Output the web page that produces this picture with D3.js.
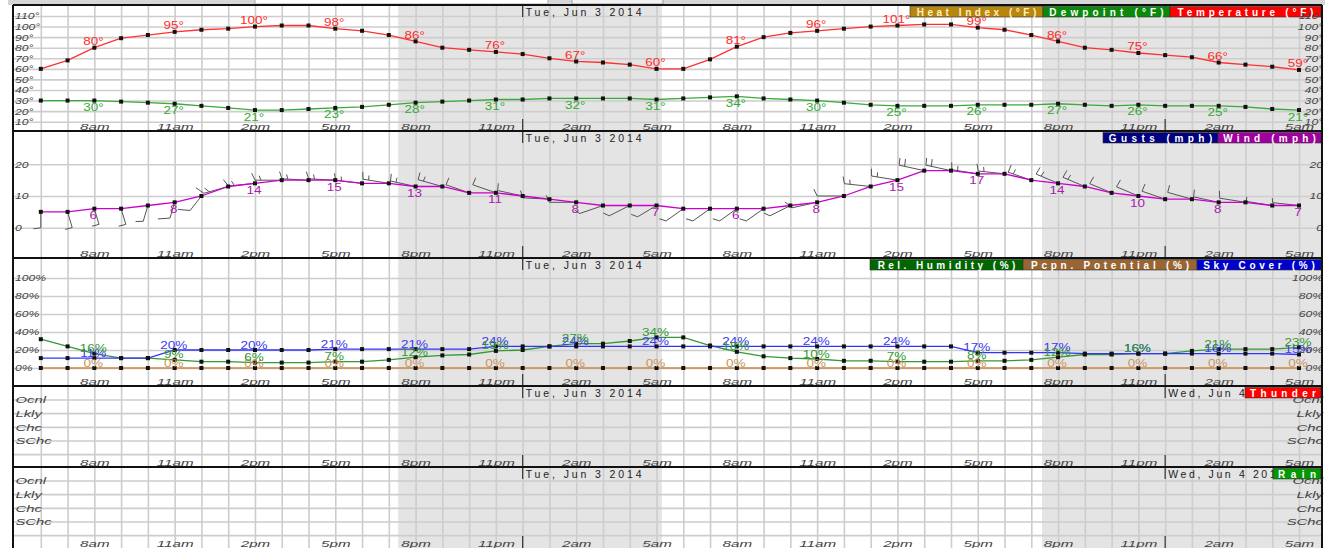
<!DOCTYPE html>
<html><head><meta charset="utf-8">
<script src="https://cdn.jsdelivr.net/npm/d3@7"></script>
<style>
body{margin:0;background:#fff;}
svg{display:block;font-family:"Liberation Sans",Arial,sans-serif;}
</style>
</head><body>
<svg id="c" width="1325" height="548"></svg>
<script>
// ---------------- DATA (hourly, Mon Jun 2 6am .. Wed Jun 4 5am) ----------------
const hourLabels = ["8am","11am","2pm","5pm","8pm","11pm","2am","5am","8am","11am","2pm","5pm","8pm","11pm","2am","5am"];
const temperature = [60,68,80,89,92,95,97,98,100,101,101,98,96,92,86,80,
                     78,76,74,70,67,66,64,60,
                     60,69,81,90,94,96,98,100,101,102,102,99,97,92,86,80,78,75,73,71,66,64,62,59];
const dewpoint    = [30,30,30,29,28,27,25,23,21,21,22,23,24,26,28,29,
                     30,31,31,32,32,32,32,31,
                     32,33,34,32,31,30,28,26,25,25,25,26,26,26,27,26,25,26,25,25,25,24,22,21];
const windSpeed   = [5,5,6,6,7,8,10,13,14,15,15,15,14,14,13,13,
                     11,11,10,9,8,7,7,7,
                     6,6,6,6,7,8,10,13,15,18,18,17,17,15,14,13,11,10,9,9,8,8,7,7];
const windDir     = [180,170,170,170,190,190,205,245,260,270,275,275,280,285,290,295,
                     300,300,290,275,270,240,230,225,
                     220,220,220,220,230,250,270,280,285,290,290,285,280,300,305,305,305,305,300,295,290,285,285,280];
const skyCover    = [11,11,11,11,11,20,20,20,20,20,20,21,21,21,21,21,
                     21,24,24,24,24,24,24,24,
                     24,24,24,24,24,24,24,24,24,24,24,17,17,17,17,16,16,16,16,16,16,16,16,15];
const relHumidity = [32,24,16,11,11,9,7,7,6,6,6,7,7,9,12,14,
                     15,19,20,24,27,27,30,34,
                     34,25,18,13,11,10,8,8,7,7,7,8,8,9,12,15,15,16,16,19,21,21,21,23];
const pcpnPotential = [0,0,0,0,0,0,0,0,0,0,0,0,0,0,0,0,0,0,0,0,0,0,0,0,
                       0,0,0,0,0,0,0,0,0,0,0,0,0,0,0,0,0,0,0,0,0,0,0,0];
const tempTicks = [10,20,30,40,50,60,70,80,90,100,110];
const windTicks = [0,10,20];
const humTicks  = [0,20,40,60,80,100];
const categories = ["Ocnl","Lkly","Chc","SChc"];
const midnightIdx = [18,42];
const dateLabels = ["Tue, Jun 3 2014","Wed, Jun 4 2014"];
const darkStart = [13.35,37.4];
const darkEnd   = [23.2,48.6];

// ---------------- LAYOUT ----------------
const W=1325,H=548,L=13,R=1322;
const panels=[{top:5,bottom:131},{top:131,bottom:258},{top:258,bottom:386},{top:386,bottom:467},{top:467,bottom:548}];
const svg=d3.select('#c');
const idx=d3.range(48);
const labelIdx=idx.filter(i=>i%3===2);
const x=d3.scaleLinear().domain([0,47]).range([40.8,1299]);
const yT=d3.scaleLinear().domain([10,110]).range([121.7,16]);
const yW=d3.scaleLinear().domain([0,20]).range([227.7,164.3]);
const yH=d3.scaleLinear().domain([0,100]).range([368,278]);

function txt(g,xx,yy,s,o){
  o=o||{};
  const sx=o.sx||1;
  const t=g.append('text').attr('transform',`translate(${xx},${yy}) scale(${sx},1)`)
    .attr('font-size',o.size||10).attr('fill',o.fill||'#333')
    .attr('text-anchor',o.anchor||'start').text(s);
  if(o.italic)t.attr('font-style','italic');
  if(o.bold)t.attr('font-weight','bold');
  if(o.len)t.attr('textLength',o.len/sx).attr('lengthAdjust','spacing');
  return t;
}

svg.append('rect').attr('width',W).attr('height',H).attr('fill','#fff');
// browser strip at top
svg.append('rect').attr('x',8).attr('y',0).attr('width',W-8).attr('height',5).attr('fill','#d6d6d6');
svg.append('rect').attr('x',255).attr('y',-2).attr('width',293).attr('height',6).attr('fill','#fff').attr('stroke','#aaa');
svg.append('rect').attr('x',572).attr('y',-2).attr('width',91).attr('height',6).attr('fill','#f2f2f2').attr('stroke','#999');

const layers=[];
panels.forEach((p,pi)=>{
  const cid='clip'+pi;
  svg.append('clipPath').attr('id',cid).append('rect').attr('x',L).attr('y',p.top).attr('width',R-L).attr('height',p.bottom-p.top);
  const g=svg.append('g').attr('clip-path',`url(#${cid})`);
  g.append('rect').attr('x',L).attr('y',p.top).attr('width',R-L).attr('height',p.bottom-p.top).attr('fill','#fff');
  darkStart.forEach((s,k)=>{
    g.append('rect').attr('x',x(s)).attr('y',p.top).attr('width',x(darkEnd[k])-x(s)).attr('height',p.bottom-p.top).attr('fill','#e4e4e4');
  });
  const vg=g.append('g').attr('transform',`translate(0,${p.bottom})`)
    .call(d3.axisBottom(x).tickValues(idx).tickSize(-(p.bottom-p.top)).tickFormat(''));
  vg.select('.domain').remove();
  vg.selectAll('line').attr('stroke','#cdcdcd').attr('stroke-width',1.6);
  layers.push(g);
});

function hgrid(g,scale,ticks){
  const hg=g.append('g').attr('transform',`translate(${L},0)`)
    .call(d3.axisLeft(scale).tickValues(ticks).tickSize(-(R-L)).tickFormat(''));
  hg.select('.domain').remove();
  hg.selectAll('line').attr('stroke','#cdcdcd').attr('stroke-width',1.6);
}
function series(g,vals,scale,color){
  g.append('path').datum(vals).attr('fill','none').attr('stroke',color).attr('stroke-width',1.3)
    .attr('d',d3.line().x((d,i)=>x(i)).y(d=>scale(d)));
}
function points(g,vals,scale){
  g.append('g').selectAll('rect').data(vals).join('rect')
    .attr('x',(d,i)=>x(i)-2).attr('y',d=>scale(d)-2).attr('width',4).attr('height',4).attr('fill','#111');
}
function dataLabels(g,vals,scale,dy,color,suffix){
  labelIdx.forEach(i=>txt(g,x(i)-1,scale(vals[i])+dy,vals[i]+suffix,{size:10,sx:1.35,fill:color,anchor:'middle'}));
}

// ---------------- Panel 1: temperature / dewpoint ----------------
const g1=layers[0];
hgrid(g1,yT,tempTicks);
series(g1,temperature,yT,'#ff3030');
series(g1,dewpoint,yT,'#3aaa3a');
points(g1,temperature,yT);
points(g1,dewpoint,yT);
dataLabels(g1,temperature,yT,-2.5,'#ff2a2a','°');
dataLabels(g1,dewpoint,yT,10.5,'#33aa33','°');

// ---------------- Panel 2: wind ----------------
const g2=layers[1];
hgrid(g2,yW,windTicks);
const barbG=g2.append('g');
idx.forEach(i=>{
  const px=x(i),py=yW(windSpeed[i]);
  const a=windDir[i]*Math.PI/180;
  const ux=Math.sin(a),uy=-Math.cos(a);
  const fx=-uy,fy=ux;
  const S=1.67,len=16;
  const P=(u,v)=>[(px+u*S).toFixed(1),(py+v).toFixed(1)];
  let d=`M${P(0,0)}L${P(ux*len,uy*len)}`;
  const n=Math.round(windSpeed[i]/5);
  const full=Math.floor(n/2),half=n%2;
  let pos=len;
  for(let k=0;k<full;k++){
    d+=`M${P(ux*pos,uy*pos)}L${P(ux*(pos+2)+fx*7,uy*(pos+2)+fy*7)}`;
    pos-=3.5;
  }
  if(half){
    d+=`M${P(ux*pos,uy*pos)}L${P(ux*(pos+1)+fx*4.5,uy*(pos+1)+fy*4.5)}`;
  }
  barbG.append('path').attr('d',d).attr('fill','none').attr('stroke','#555').attr('stroke-width',1);
});
series(g2,windSpeed,yW,'#cc00cc');
points(g2,windSpeed,yW);
dataLabels(g2,windSpeed,yW,10.5,'#a81ca8','');

// ---------------- Panel 3: humidity / pcpn / sky ----------------
const g3=layers[2];
hgrid(g3,yH,humTicks);
series(g3,pcpnPotential,yH,'#cc8844');
series(g3,relHumidity,yH,'#339933');
series(g3,skyCover,yH,'#3333ff');
points(g3,pcpnPotential,yH);
points(g3,relHumidity,yH);
points(g3,skyCover,yH);
dataLabels(g3,pcpnPotential,yH,-1.5,'#c8955f','%');
dataLabels(g3,skyCover,yH,-1.5,'#3b3bf0','%');
dataLabels(g3,relHumidity,yH,-1.5,'#339933','%');

// ---------------- Panels 4,5: thunder / rain ----------------
[3,4].forEach(k=>{
  const p=panels[k];
  const yc=d3.scalePoint().domain(categories).range([p.top+14,p.top+55]);
  const step=yc.step();
  categories.concat([null]).forEach((c,j)=>{
    const yy=c?yc(c):yc(categories[3])+step;
    layers[k].append('line').attr('x1',L).attr('x2',R).attr('y1',yy).attr('y2',yy)
      .attr('stroke','#cdcdcd').attr('stroke-width',1.6);
  });
  p.yc=yc;
});

// ---------------- Decorations: midnight markers, dates ----------------
panels.forEach((p,pi)=>{
  const g=svg.append('g');
  midnightIdx.forEach((m,k)=>{
    const xm=x(m);
    g.append('line').attr('x1',xm).attr('x2',xm).attr('y1',p.top).attr('y2',p.top+12).attr('stroke','#333').attr('stroke-width',1.2);
    g.append('line').attr('x1',xm).attr('x2',xm).attr('y1',p.bottom-12).attr('y2',p.bottom).attr('stroke','#333').attr('stroke-width',1.2);
    txt(g,xm+3,p.top+11,dateLabels[k],{size:10.5,fill:'#222',len:116});
  });
});

// ---------------- Legends ----------------
const legends=[
  [0,[["Heat Index (°F)","#b8860b","#fff0c4",910,1043],["Dewpoint (°F)","#0a8a0a","#fff",1043,1170],["Temperature (°F)","#ff0000","#fff",1170,1321]]],
  [1,[["Gusts (mph)","#000080","#fff",1103,1218],["Wind (mph)","#a000a0","#fff",1218,1321]]],
  [2,[["Rel. Humidity (%)","#006600","#fff",870,1023],["Pcpn. Potential (%)","#996633","#fff",1023,1197],["Sky Cover (%)","#0000cc","#fff",1197,1321]]],
  [3,[["Thunder","#ff0000","#fff",1245,1321]]],
  [4,[["Rain","#009900","#fff",1273,1321]]]
];
legends.forEach(([pi,items])=>{
  const p=panels[pi];
  const g=svg.append('g');
  items.forEach(([label,bg,fg,x0,x1])=>{
    g.append('rect').attr('x',x0).attr('y',p.top+1.5).attr('width',x1-x0).attr('height',10.5).attr('fill',bg).attr('stroke','#333').attr('stroke-width',0.6);
    const w=(x1-x0)-Math.max(10,Math.min(16,(x1-x0)*0.1));
    txt(g,x0+((x1-x0)-w)/2,p.top+10.5,label,{size:10,bold:true,fill:fg,len:w});
  });
});

// ---------------- Axes labels ----------------
function styleAxis(sel){
  sel.select('.domain').remove();
  sel.selectAll('line').remove();
}
panels.forEach((p,pi)=>{
  const ax=svg.append('g').attr('transform',`translate(0,${p.bottom-1.5})`)
    .call(d3.axisBottom(x).tickValues(labelIdx).tickFormat((d,i)=>hourLabels[i]).tickSize(0).tickPadding(0));
  styleAxis(ax);
  ax.attr('font-family',null).attr('font-size',null);
  ax.selectAll('text').attr('y',0).attr('dy',null).attr('transform','scale(1.6,1)')
    .attr('font-size',9.5).attr('font-style','italic').attr('fill','#444');
});
function yLabels(scale,ticks,fmt,sx){
  const left=svg.append('g').attr('transform',`translate(${L},0)`)
    .call(d3.axisLeft(scale).tickValues(ticks).tickFormat(fmt).tickSize(0).tickPadding(0));
  styleAxis(left);
  left.attr('font-family',null).attr('font-size',null);
  left.selectAll('text').attr('x',1.5).attr('text-anchor','start').attr('transform',`scale(${sx},1)`)
    .attr('font-size',9).attr('font-style','italic').attr('fill','#444');
  const right=svg.append('g').attr('transform',`translate(${R+1},0)`)
    .call(d3.axisRight(scale).tickValues(ticks).tickFormat(fmt).tickSize(0).tickPadding(0));
  styleAxis(right);
  right.attr('font-family',null).attr('font-size',null);
  right.selectAll('text').attr('x',0).attr('text-anchor','end').attr('transform',`scale(${sx},1)`)
    .attr('font-size',9).attr('font-style','italic').attr('fill','#444');
}
yLabels(yT,tempTicks,d=>d+'°',1.35);
yLabels(yW,windTicks,d=>d,1.35);
yLabels(yH,humTicks,d=>d+'%',1.35);
[3,4].forEach(k=>yLabels(panels[k].yc,categories,d=>d,1.65));

// ---------------- Borders ----------------
const bg=svg.append('g').attr('fill','none').attr('stroke','#111').attr('stroke-width',2);
panels.forEach(p=>{
  bg.append('line').attr('x1',L).attr('x2',R).attr('y1',p.top).attr('y2',p.top);
});
bg.append('line').attr('x1',L).attr('x2',L).attr('y1',panels[0].top).attr('y2',H);
bg.append('line').attr('x1',R).attr('x2',R).attr('y1',panels[0].top).attr('y2',H);
</script>
</body></html>
